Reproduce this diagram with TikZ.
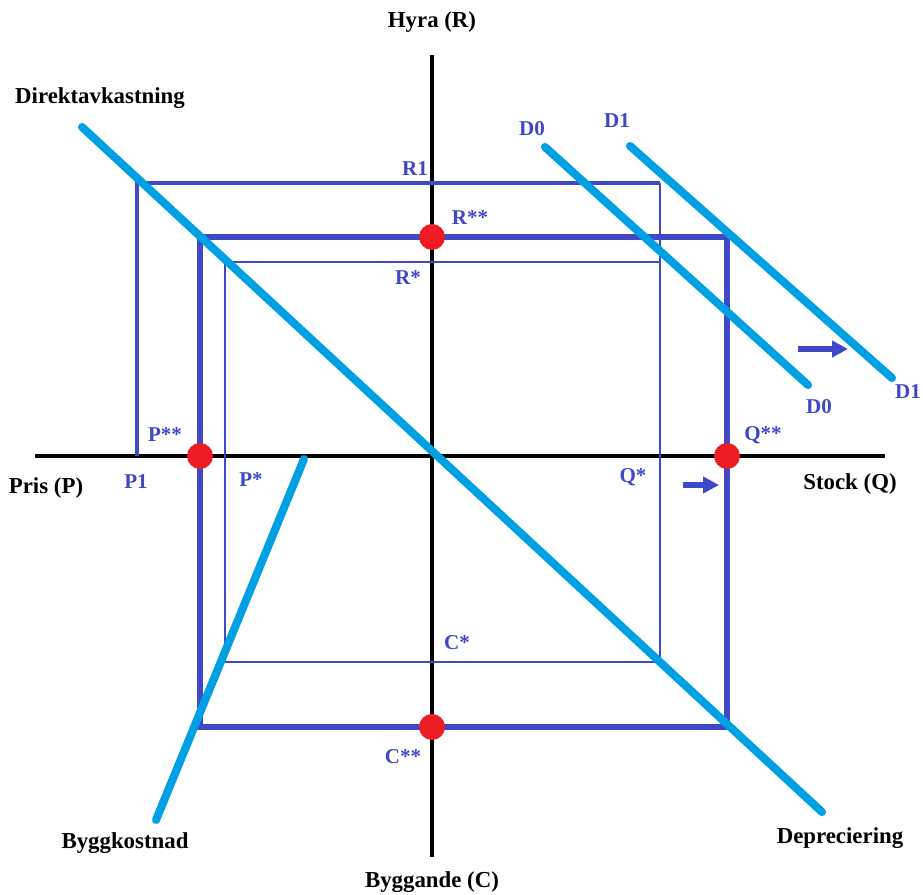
\documentclass[tikz,border=0pt]{standalone}
\usepackage{fontspec}
\setmainfont{Liberation Serif}
\definecolor{frame}{RGB}{64,72,200}
\definecolor{curve}{RGB}{0,160,226}
\definecolor{dotred}{RGB}{237,28,36}
\usetikzlibrary{arrows.meta}

\begin{document}
\begin{tikzpicture}[x=0.02cm, y=-0.02cm,
    axis/.style={line width=2.3pt, black},
    thin box/.style={frame, line width=1.5pt},
    step box/.style={frame, line width=2.2pt},
    thick box/.style={frame, line width=3.8pt},
    curveline/.style={curve, line width=4.6pt, line cap=round},
    shift arrow/.style={frame, line width=3pt, -{Triangle[length=9pt, width=9pt]}},
    eq/.style={circle, fill=dotred, inner sep=0pt, minimum size=0.52cm},
    axlabel/.style={font=\fontsize{13}{15}\selectfont\bfseries, text=black},
    lbl/.style={font=\fontsize{12}{14}\selectfont\bfseries, text=frame}]
        \useasboundingbox (0,0) rectangle (923,895);
        % axes
        \coordinate (north) at (432,55);
        \coordinate (south) at (432,857);
        \coordinate (west) at (35,456);
        \coordinate (east) at (885,456);
        \draw[axis] (west) -- (east);
        \draw[axis] (north) -- (south);
        % thin boxes: starting equilibrium and R1/P1 step
        \draw[thin box] (225,262) rectangle (660,662);
        \draw[step box] (137,456) -- (137,183) -- (660,183);
        \draw[thin box] (660,183) -- (660,262);
        % thick box: new equilibrium
        \draw[thick box] (200,237) rectangle (727,727);
        % curves
        \coordinate (da1) at (82,127);
        \coordinate (da2) at (822,812);
        \coordinate (bk1) at (304,459);
        \coordinate (bk2) at (156,820);
        \coordinate (d0a) at (545,147);
        \coordinate (d0b) at (808,385);
        \coordinate (d1a) at (630,146);
        \coordinate (d1b) at (892,378);
        \draw[curveline] (da1) -- (da2);
        \draw[curveline] (bk1) -- (bk2);
        \draw[curveline] (d0a) -- (d0b);
        \draw[curveline] (d1a) -- (d1b);
        % shift arrows
        \coordinate (sa1) at (798,349);
        \coordinate (sa2) at (848,349);
        \coordinate (sb1) at (683,485);
        \coordinate (sb2) at (719,485);
        \draw[shift arrow] (sa1) -- (sa2);
        \draw[shift arrow] (sb1) -- (sb2);
        % equilibrium points
        \node[eq] (Rss) at (432,237) {};
        \node[eq] (Pss) at (200,456) {};
        \node[eq] (Qss) at (727,456) {};
        \node[eq] (Css) at (432,727) {};
        % axis labels
        \node[axlabel] (hyra) at (432,22) {Hyra (R)};
        \node[axlabel] (pris) at (46,488) {Pris (P)};
        \node[axlabel] (stock) at (850,484) {Stock (Q)};
        \node[axlabel] (bygg) at (432,882) {Byggande (C)};
        \node[axlabel] (dirl) at (100,98) {Direktavkastning};
        \node[axlabel] (bkl) at (125,843) {Byggkostnad};
        \node[axlabel] (depl) at (840,838) {Depreciering};
        % point labels
        \node[lbl] at (415,169) {R1};
        \node[lbl] at (470,218) {R**};
        \node[lbl] at (408,278) {R*};
        \node[lbl] at (165,435) {P**};
        \node[lbl] at (136,482) {P1};
        \node[lbl] at (251,480) {P*};
        \node[lbl] at (633,477) {Q*};
        \node[lbl] at (763,435) {Q**};
        \node[lbl] at (457,643) {C*};
        \node[lbl] at (403,757) {C**};
        \node[lbl] at (532,129) {D0};
        \node[lbl] at (617,121) {D1};
        \node[lbl] at (819,407) {D0};
        \node[lbl] at (908,392) {D1};
      \end{tikzpicture}
\end{document}
